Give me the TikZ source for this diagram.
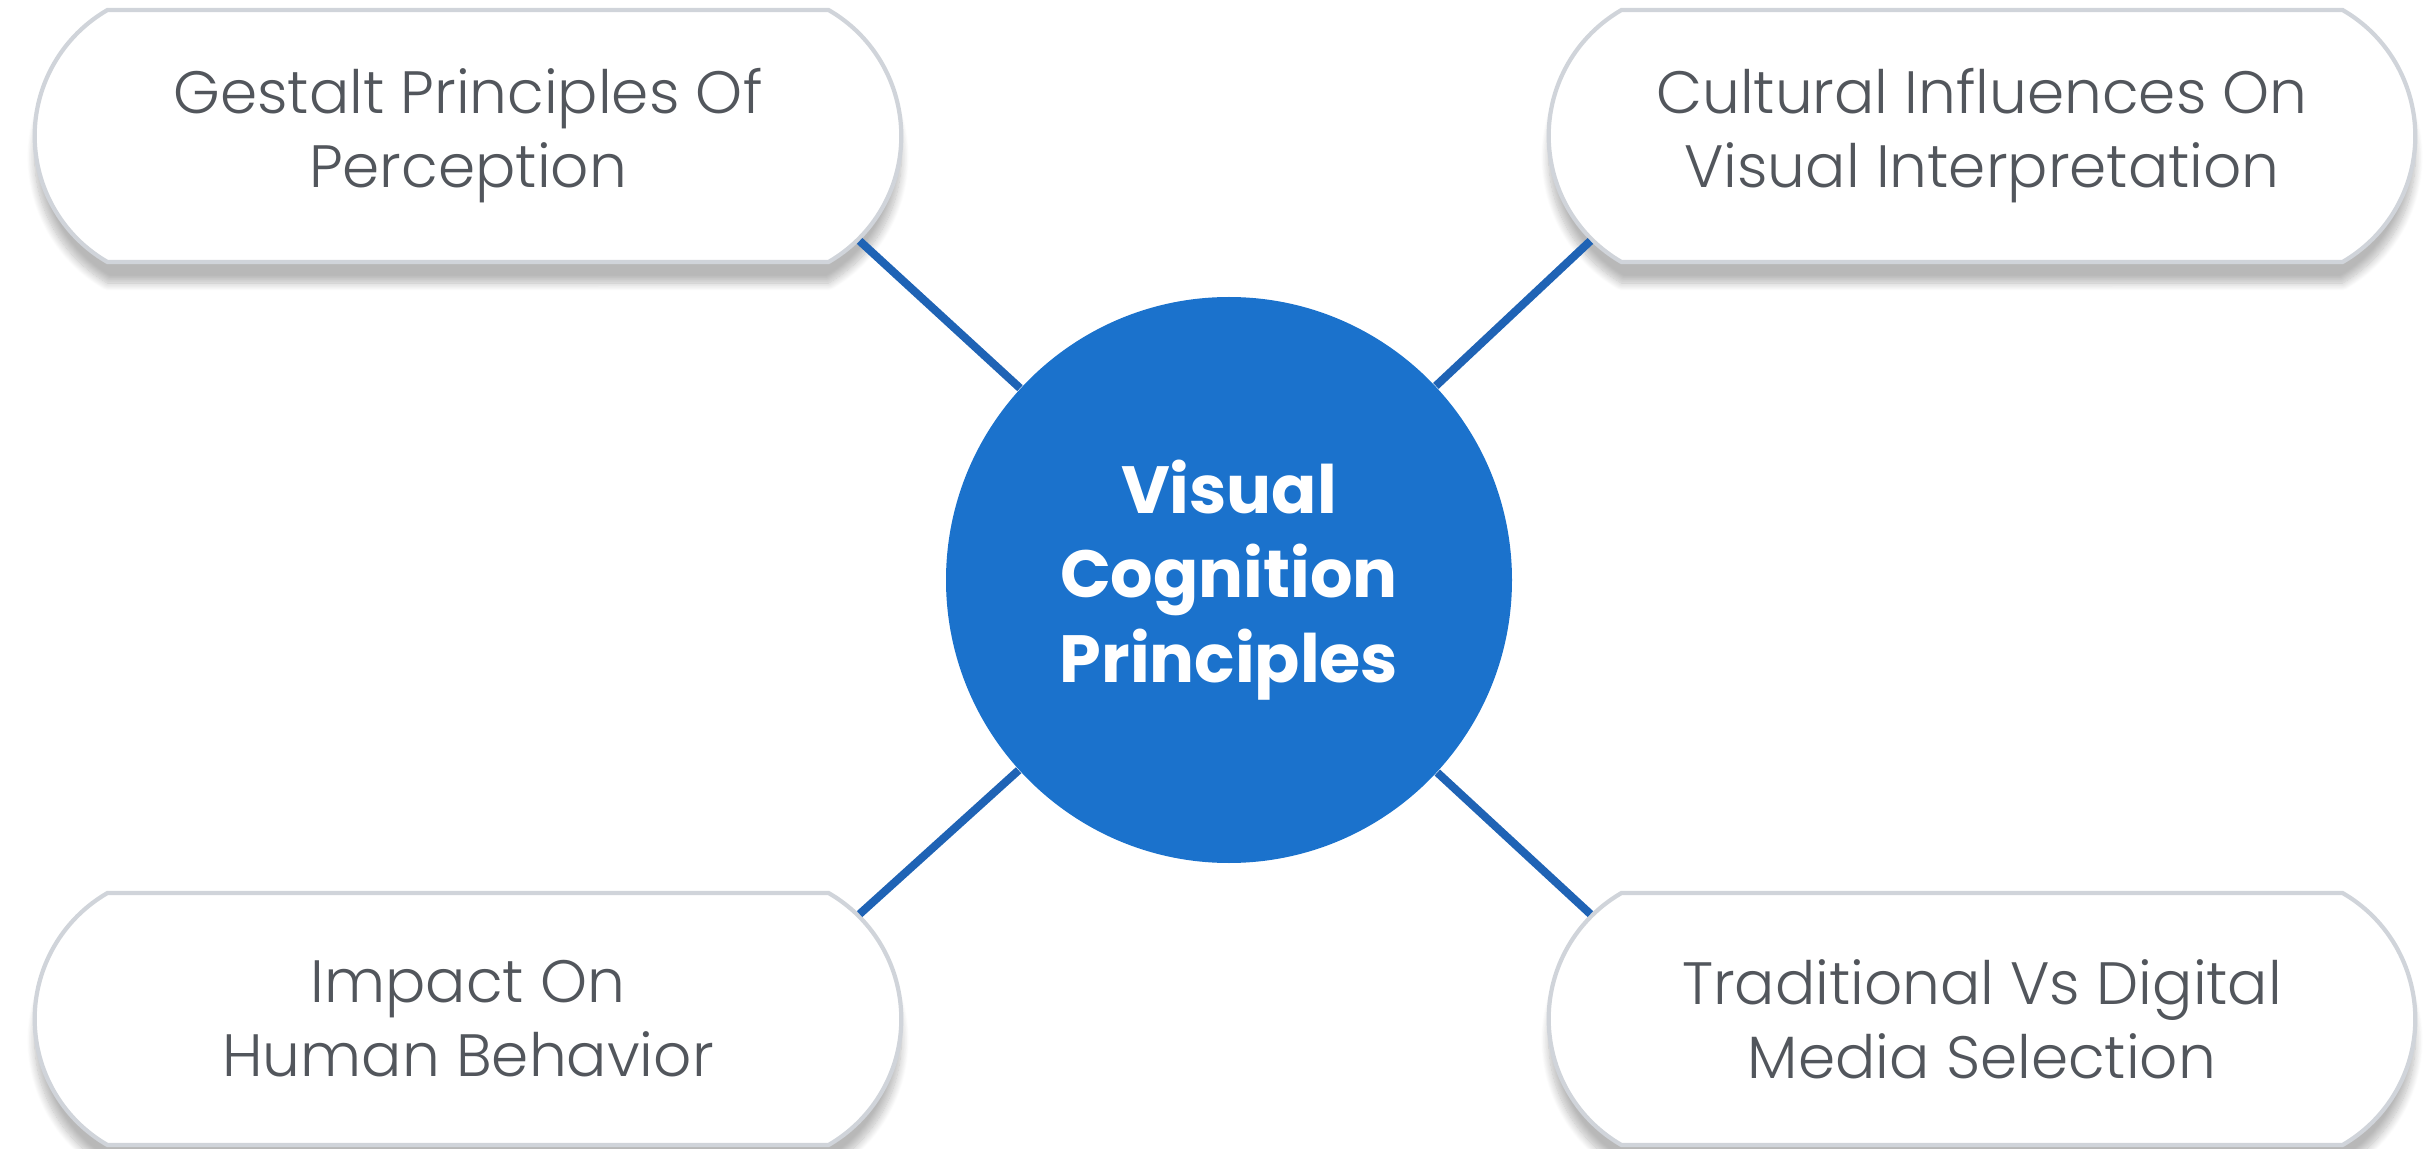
\documentclass[tikz,border=0pt]{standalone}
\usepackage{fontspec}
\setmainfont{Poppins}
\newfontfamily\thinfont{Poppins Light}
\usetikzlibrary{shapes.misc,shadows.blur}
\definecolor{hubblue}{RGB}{27,114,204}
\definecolor{linkblue}{RGB}{31,99,181}
\definecolor{pilltext}{RGB}{82,86,92}
\definecolor{pillrim}{RGB}{208,212,218}

\begin{document}
\begin{tikzpicture}[
  topic/.style={rounded rectangle, rounded rectangle arc length=120, draw=pillrim, line width=1.2pt, fill=white,
    minimum width=8.9cm, minimum height=2.52cm, align=center, text=pilltext,
    font=\thinfont\fontsize{17}{21}\selectfont,
    blur shadow={shadow xshift=0pt, shadow yshift=-6pt, shadow blur steps=12, shadow opacity=28}},
  hub/.style={circle, fill=hubblue, minimum size=5.66cm, align=center, text=white,
    font=\bfseries\fontsize{19}{24}\selectfont},
  link/.style={linkblue, line width=2.3pt}
]
\useasboundingbox (0,0) rectangle (24.32,11.48);
\node[hub] (vcp) at (12.29,5.68) {Visual\\Cognition\\Principles};
\node[topic] (gestalt) at (4.68,10.12) {Gestalt Principles Of\\Perception};
\node[topic] (cultural) at (19.82,10.12) {Cultural Influences On\\Visual Interpretation};
\node[topic] (impact) at (4.68,1.29) {Impact On\\Human Behavior};
\node[topic] (traditional) at (19.82,1.29) {Traditional Vs Digital\\Media Selection};
\draw[link] (gestalt.-15) -- (vcp);
\draw[link] (cultural.195) -- (vcp);
\draw[link] (impact.15) -- (vcp);
\draw[link] (traditional.165) -- (vcp);
\end{tikzpicture}
\end{document}
